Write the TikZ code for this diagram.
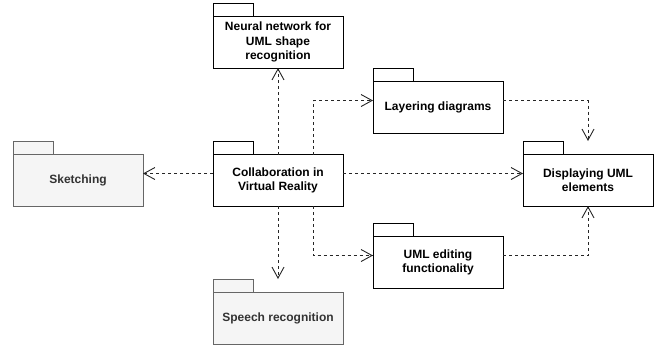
\documentclass[tikz,border=0pt]{standalone}
\usepackage{fontspec}
\setmainfont{Liberation Sans}
\usetikzlibrary{arrows.meta,calc}
\definecolor{greyfill}{HTML}{F5F5F5}
\definecolor{greyline}{HTML}{666666}
\definecolor{greytext}{HTML}{333333}
\tikzset{
  x=1pt, y=-1pt,
  bounds/.style={minimum width=130pt, minimum height=65pt, inner sep=0pt, outer sep=0pt},
  pkgbody/.style={draw, line width=1pt, fill=white, minimum width=130pt, minimum height=51.5pt,
    inner sep=0pt, outer sep=0pt, align=center, font=\fontsize{12}{14.5}\selectfont\bfseries},
  pkgtab/.style={draw, line width=1pt, fill=white, minimum width=40pt, minimum height=13.5pt,
    inner sep=0pt, outer sep=0pt},
  greypkg/.style={draw=greyline, fill=greyfill, text=greytext},
  dep/.style={line width=0.9pt, draw=black!85, dash pattern=on 3pt off 3pt,
    -{Straight Barb[length=11pt,width=12pt,line width=0.9pt]}},
}
\begin{document}
\begin{tikzpicture}
\useasboundingbox (0,0) rectangle (666,349);

% packages: outer bounds, body with label, tab on top
\node[bounds] (neural) at (278,35.5) {};
\node[pkgbody, anchor=south] (neural-b) at (neural.south) {Neural network for\\UML shape\\recognition};
\node[pkgtab, anchor=south west] (neural-tab) at (neural-b.north west) {};

\node[bounds] (sketch) at (78,173.5) {};
\node[pkgbody, greypkg, anchor=south] (sketch-b) at (sketch.south) {Sketching};
\node[pkgtab, greypkg, anchor=south west] (sketch-tab) at (sketch-b.north west) {};

\node[bounds] (collab) at (278,173.5) {};
\node[pkgbody, anchor=south] (collab-b) at (collab.south) {Collaboration in\\Virtual Reality};
\node[pkgtab, anchor=south west] (collab-tab) at (collab-b.north west) {};

\node[bounds] (layer) at (438,100.5) {};
\node[pkgbody, anchor=south] (layer-b) at (layer.south) {Layering diagrams};
\node[pkgtab, anchor=south west] (layer-tab) at (layer-b.north west) {};

\node[bounds] (disp) at (588,173.5) {};
\node[pkgbody, anchor=south] (disp-b) at (disp.south) {Displaying UML\\elements};
\node[pkgtab, anchor=south west] (disp-tab) at (disp-b.north west) {};

\node[bounds] (edit) at (438,255.5) {};
\node[pkgbody, anchor=south] (edit-b) at (edit.south) {UML editing\\functionality};
\node[pkgtab, anchor=south west] (edit-tab) at (edit-b.north west) {};

\node[bounds] (speech) at (278,311.5) {};
\node[pkgbody, greypkg, anchor=south] (speech-b) at (speech.south) {Speech recognition};
\node[pkgtab, greypkg, anchor=south west] (speech-tab) at (speech-b.north west) {};

% dependencies
\draw[dep] (collab.west) -- (sketch.east);
\draw[dep] (collab.east) -- (disp.west);
\draw[dep] (collab-b.north) -- (neural.south);
\draw[dep] (collab.south) -- (speech.north);
\coordinate (collab-up) at ($(collab-b.north)+(35,0)$);
\coordinate (collab-dn) at ($(collab.south)+(35,0)$);
\draw[dep] (collab-up) |- (layer.west);
\draw[dep] (collab-dn) |- (edit.west);
\draw[dep] (layer.east) -| (disp.north);
\draw[dep] (edit.east) -| (disp.south);
\end{tikzpicture}
\end{document}
